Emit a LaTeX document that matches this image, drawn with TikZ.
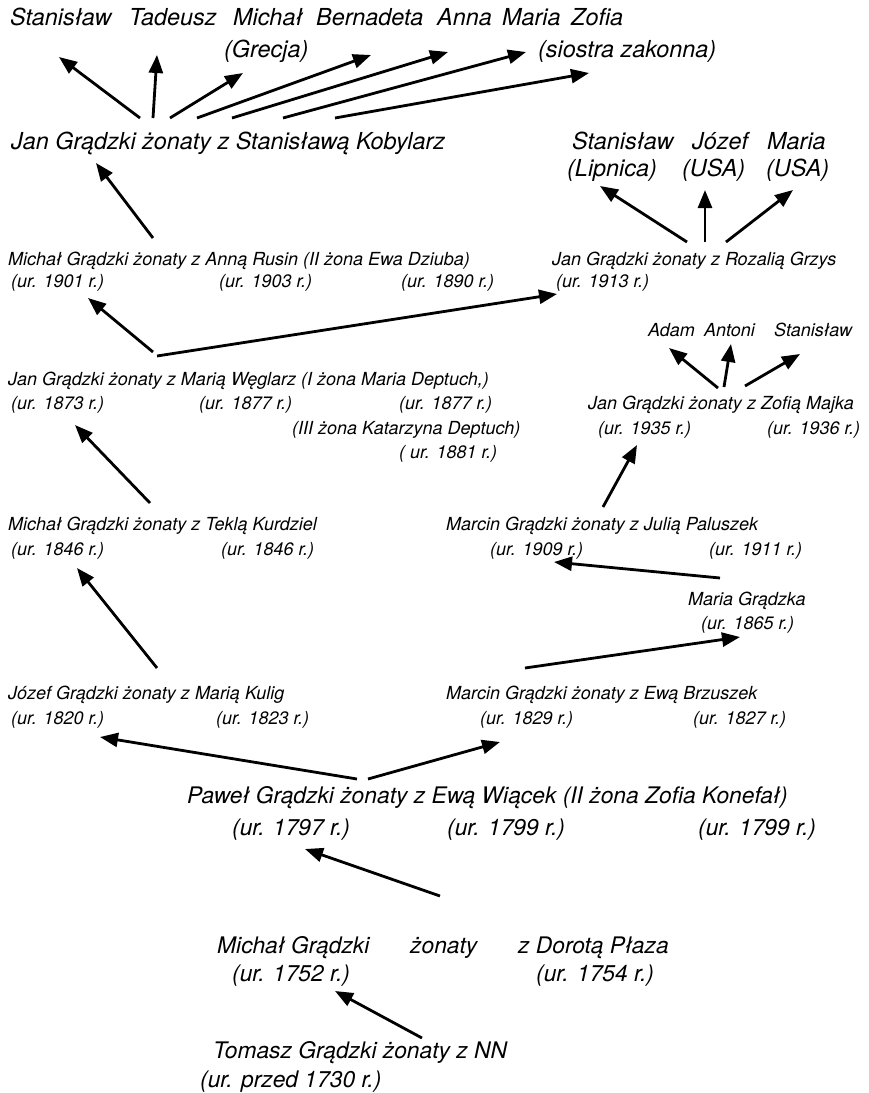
\documentclass[tikz,border=0pt]{standalone}
\usepackage{fontspec}
\setmainfont{TeX Gyre Heros}
\usetikzlibrary{arrows.meta}
\begin{document}
\begin{tikzpicture}[x=1pt,y=-1pt,
  top/.style={anchor=base west,inner sep=0pt,font=\fontsize{23.4}{28}\selectfont\itshape},
  big/.style={anchor=base west,inner sep=0pt,font=\fontsize{22.8}{27}\selectfont\itshape},
  small/.style={anchor=base west,inner sep=0pt,font=\fontsize{18}{22}\selectfont\itshape},
  link/.style={line width=2.8pt,-{Triangle[length=18pt,width=14pt]}}]
\path[use as bounding box] (0,0) rectangle (869,1093);

% --- youngest generation (top) ---
\node[top] (c1) at (10,25) {Stanisław};
\node[top] (c2) at (129,25) {Tadeusz};
\node[top] (c3) at (233,25) {Michał};
\node[top] (c4) at (316,25) {Bernadeta};
\node[top] (c5) at (437,25) {Anna};
\node[top] (c6) at (502,25) {Maria};
\node[top] (c7) at (571,25) {Zofia};
\node[top] (c3n) at (224,57) {(Grecja)};
\node[top] (c7n) at (538,57) {(siostra zakonna)};

\node[top] (jsk) at (11,149) {Jan Grądzki żonaty z Stanisławą Kobylarz};
\node[top] (r1) at (572,149) {Stanisław};
\node[top] (r2) at (692,149) {Józef};
\node[top] (r3) at (767,149) {Maria};
\node[top] (r1n) at (567,176) {(Lipnica)};
\node[top] (r2n) at (682,176) {(USA)};
\node[top] (r3n) at (766,176) {(USA)};

% --- middle generations ---
\node[small] (mar) at (8,265) {Michał Grądzki żonaty z Anną Rusin (II żona Ewa Dziuba)};
\node[small] (mar1) at (11,287) {(ur. 1901 r.)};
\node[small] (mar2) at (219,287) {(ur. 1903 r.)};
\node[small] (mar3) at (401,287) {(ur. 1890 r.)};
\node[small] (jrg) at (552,265) {Jan Grądzki żonaty z Rozalią Grzys};
\node[small] (jrg1) at (556,287) {(ur. 1913 r.)};

\node[small] (z1) at (648,336) {Adam};
\node[small] (z2) at (704,336) {Antoni};
\node[small] (z3) at (774,336) {Stanisław};

\node[small] (jmw) at (8,385) {Jan Grądzki żonaty z Marią Węglarz (I żona Maria Deptuch,)};
\node[small] (jmw1) at (11,409) {(ur. 1873 r.)};
\node[small] (jmw2) at (199,409) {(ur. 1877 r.)};
\node[small] (jmw3) at (399,409) {(ur. 1877 r.)};
\node[small] (jmw4) at (292,434) {(III żona Katarzyna Deptuch)};
\node[small] (jmw5) at (399,458) {( ur. 1881 r.)};
\node[small] (jzm) at (588,409) {Jan Grądzki żonaty z Zofią Majka};
\node[small] (jzm1) at (598,434) {(ur. 1935 r.)};
\node[small] (jzm2) at (767,434) {(ur. 1936 r.)};

\node[small] (mtk) at (8,530) {Michał Grądzki żonaty z Teklą Kurdziel};
\node[small] (mtk1) at (11,555) {(ur. 1846 r.)};
\node[small] (mtk2) at (221,555) {(ur. 1846 r.)};
\node[small] (mjp) at (446,530) {Marcin Grądzki żonaty z Julią Paluszek};
\node[small] (mjp1) at (490,555) {(ur. 1909 r.)};
\node[small] (mjp2) at (709,555) {(ur. 1911 r.)};

\node[small] (mg) at (688,605) {Maria Grądzka};
\node[small] (mg1) at (701,629) {(ur. 1865 r.)};

\node[small] (jmk) at (8,699) {Józef Grądzki żonaty z Marią Kulig};
\node[small] (jmk1) at (11,724) {(ur. 1820 r.)};
\node[small] (jmk2) at (216,724) {(ur. 1823 r.)};
\node[small] (meb) at (446,699) {Marcin Grądzki żonaty z Ewą Brzuszek};
\node[small] (meb1) at (480,724) {(ur. 1829 r.)};
\node[small] (meb2) at (693,724) {(ur. 1827 r.)};

% --- oldest generations (bottom) ---
\node[big] (pew) at (187,803) {Paweł Grądzki żonaty z Ewą Wiącek (II żona Zofia Konefał)};
\node[big] (pew1) at (232,835) {(ur. 1797 r.)};
\node[big] (pew2) at (447,835) {(ur. 1799 r.)};
\node[big] (pew3) at (698,835) {(ur. 1799 r.)};

\node[big] (mdp) at (217,953) {Michał Grądzki};
\node[big] (mdpz) at (410,953) {żonaty};
\node[big] (mdpw) at (518,953) {z Dorotą Płaza};
\node[big] (mdp1) at (232,981) {(ur. 1752 r.)};
\node[big] (mdp2) at (536,981) {(ur. 1754 r.)};

\node[big] (tnn) at (213,1058) {Tomasz Grądzki żonaty z NN};
\node[big] (tnn1) at (200,1087) {(ur. przed 1730 r.)};

% --- arrow end points ---
\coordinate (jsk-t1) at (140,118); \coordinate (c1-h) at (59,57);
\coordinate (jsk-t2) at (153,118); \coordinate (c2-h) at (157,55);
\coordinate (jsk-t3) at (170,118); \coordinate (c3-h) at (243,73);
\coordinate (jsk-t4) at (197,118); \coordinate (c4-h) at (371,55);
\coordinate (jsk-t5) at (232,118); \coordinate (c5-h) at (448,52);
\coordinate (jsk-t6) at (283,118); \coordinate (c6-h) at (526,52);
\coordinate (jsk-t7) at (335,118); \coordinate (c7-h) at (589,73);

\coordinate (jrg-t1) at (687,242); \coordinate (r1-h) at (600,186);
\coordinate (jrg-t2) at (705,242); \coordinate (r2-h) at (705,190);
\coordinate (jrg-t3) at (726,242); \coordinate (r3-h) at (793,190);

\coordinate (jzm-t1) at (718,388); \coordinate (z1-h) at (669,348);
\coordinate (jzm-t2) at (724,387); \coordinate (z2-h) at (731,344);
\coordinate (jzm-t3) at (745,386); \coordinate (z3-h) at (800,354);

\coordinate (mar-t) at (153,238); \coordinate (jsk-h) at (96,163);
\coordinate (jmw-t1) at (153,352); \coordinate (mar-h) at (88,298);
\coordinate (jmw-t2) at (157,356); \coordinate (jrg-h) at (557,294);
\coordinate (mtk-t) at (150,503); \coordinate (jmw-h) at (75,425);
\coordinate (mjp-t) at (603,507); \coordinate (jzm-h) at (637,445);
\coordinate (jmk-t) at (157,668); \coordinate (mtk-h) at (77,568);
\coordinate (mg-t) at (720,578); \coordinate (mjp-h) at (554,562);
\coordinate (meb-t) at (525,668); \coordinate (mg-h) at (740,637);
\coordinate (pew-t1) at (357,779); \coordinate (jmk-h) at (100,737);
\coordinate (pew-t2) at (368,779); \coordinate (meb-h) at (500,742);
\coordinate (mdp-t) at (440,896); \coordinate (pew-h) at (305,849);
\coordinate (tnn-t) at (422,1038); \coordinate (mdp-h) at (335,991);

% --- descent arrows ---
\draw[link] (jsk-t1) -- (c1-h);
\draw[link] (jsk-t2) -- (c2-h);
\draw[link] (jsk-t3) -- (c3-h);
\draw[link] (jsk-t4) -- (c4-h);
\draw[link] (jsk-t5) -- (c5-h);
\draw[link] (jsk-t6) -- (c6-h);
\draw[link] (jsk-t7) -- (c7-h);

\draw[link] (jrg-t1) -- (r1-h);
\draw[link] (jrg-t2) -- (r2-h);
\draw[link] (jrg-t3) -- (r3-h);

\draw[link] (jzm-t1) -- (z1-h);
\draw[link] (jzm-t2) -- (z2-h);
\draw[link] (jzm-t3) -- (z3-h);

\draw[link] (mar-t) -- (jsk-h);
\draw[link] (jmw-t1) -- (mar-h);
\draw[link] (jmw-t2) -- (jrg-h);
\draw[link] (mtk-t) -- (jmw-h);
\draw[link] (mjp-t) -- (jzm-h);
\draw[link] (jmk-t) -- (mtk-h);
\draw[link] (mg-t) -- (mjp-h);
\draw[link] (meb-t) -- (mg-h);
\draw[link] (pew-t1) -- (jmk-h);
\draw[link] (pew-t2) -- (meb-h);
\draw[link] (mdp-t) -- (pew-h);
\draw[link] (tnn-t) -- (mdp-h);
\end{tikzpicture}
\end{document}
